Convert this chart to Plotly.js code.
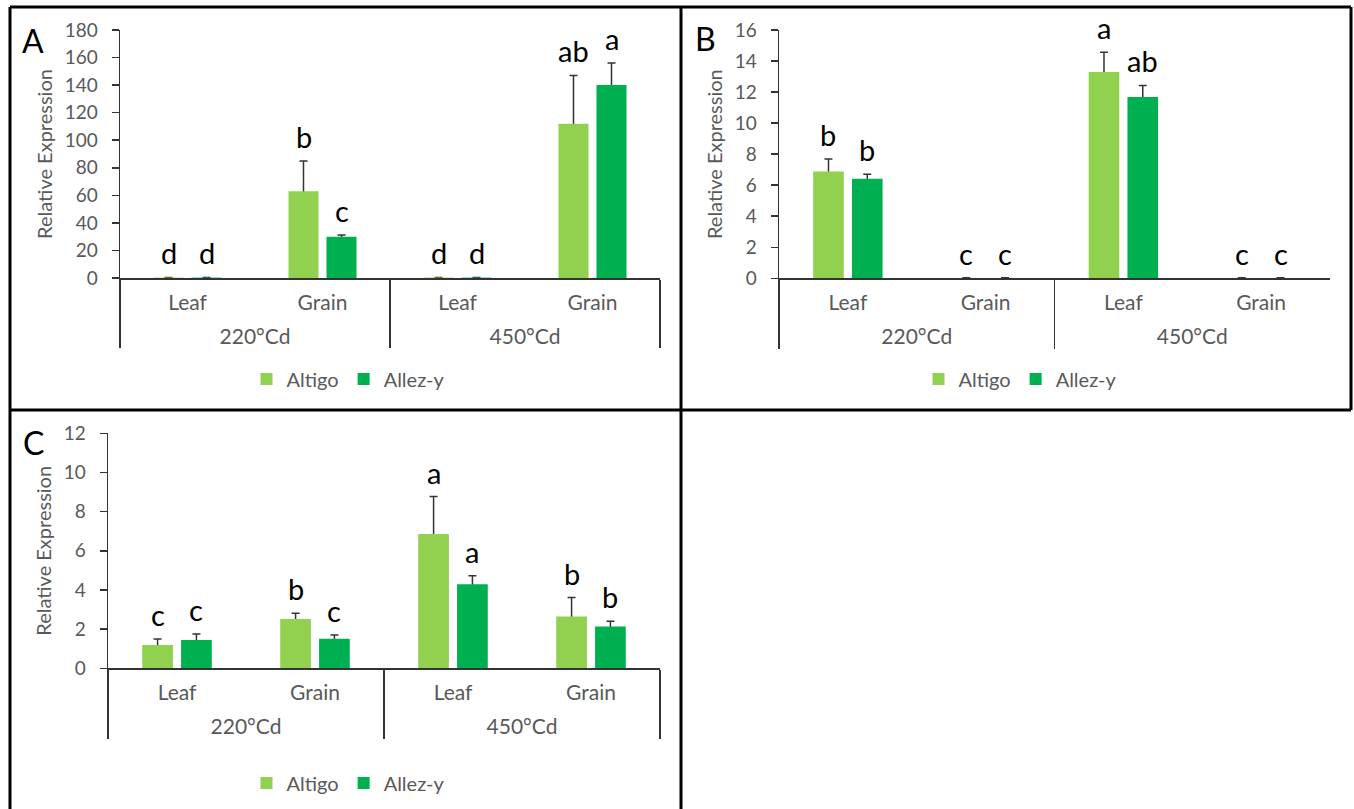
<!DOCTYPE html>
<html><head><meta charset="utf-8">
<script src="https://cdn.plot.ly/plotly-3.0.1.min.js"></script>
<style>html,body{margin:0;padding:0;background:#fff}#chart{width:1354px;height:809px}</style>
</head><body><div id="chart"></div>
<script>
// ---------- data ----------
const stages = ['220°Cd', '220°Cd', '450°Cd', '450°Cd'];
const tissues = ['Leaf', 'Grain', 'Leaf', 'Grain'];
const seriesNames = ['Altigo', 'Allez-y'];

// Panel A
const aAltigo = [0.3, 63, 0.3, 112];
const aAltigoErr = [0.1, 22, 0.1, 35];
const aAllez = [0.3, 30, 0.3, 140];
const aAllezErr = [0.1, 1.2, 0.1, 16];
const aAltigoLetters = ['d', 'b', 'd', 'ab'];
const aAllezLetters = ['d', 'c', 'd', 'a'];

// Panel B
const bAltigo = [6.88, 0.02, 13.3, 0.02];
const bAltigoErr = [0.8, 0.01, 1.27, 0.01];
const bAllez = [6.41, 0.02, 11.68, 0.02];
const bAllezErr = [0.3, 0.01, 0.75, 0.01];
const bAltigoLetters = ['b', 'c', 'a', 'c'];
const bAllezLetters = ['b', 'c', 'ab', 'c'];

// Panel C
const cAltigo = [1.19, 2.52, 6.86, 2.64];
const cAltigoErr = [0.31, 0.29, 1.91, 0.97];
const cAllez = [1.45, 1.51, 4.29, 2.13];
const cAllezErr = [0.3, 0.19, 0.44, 0.27];
const cAltigoLetters = ['c', 'b', 'a', 'b'];
const cAllezLetters = ['c', 'c', 'a', 'b'];

const yRanges = [[0, 180], [0, 16], [0, 12]];
const yDticks = [20, 2, 2];
const panelNames = ['A', 'B', 'C'];

// ---------- style ----------
const W = 1354, H = 809;
const FONT = 'Lato, Carlito, Calibri, sans-serif';
const GRAY = '#595959';
const LINE = '#333333';
const COLORS = ['#92D050', '#00B050'];
const BARGAP = 0.437, BARGROUPGAP = 0.21;
const px = v => v / W;
const py = v => 1 - v / H;

const panels = [
  {vals: [aAltigo, aAllez], errs: [aAltigoErr, aAllezErr], lets: [aAltigoLetters, aAllezLetters],
   xd: [120, 660], yd: [278, 30], legend: [348, 379], label: [33, 40], standoff: 6},
  {vals: [bAltigo, bAllez], errs: [bAltigoErr, bAllezErr], lets: [bAltigoLetters, bAllezLetters],
   xd: [779, 1330], yd: [278.3, 30], legend: [1020, 379], label: [705, 39], standoff: 6},
  {vals: [cAltigo, cAllez], errs: [cAltigoErr, cAllezErr], lets: [cAltigoLetters, cAllezLetters],
   xd: [108, 660], yd: [668.3, 433.3], legend: [348, 783], label: [33, 443], standoff: 6}
];

const data = [];
const annotations = [];
const layout = {
  width: W, height: H,
  margin: {l: 0, r: 0, t: 0, b: 0},
  paper_bgcolor: '#ffffff', plot_bgcolor: 'rgba(0,0,0,0)',
  barmode: 'group', bargap: BARGAP, bargroupgap: BARGROUPGAP,
  font: {family: FONT, color: GRAY},
  showlegend: true,
  shapes: [], annotations: annotations
};

const slot = (1 - BARGAP) / 2;

panels.forEach((p, k) => {
  const n = k === 0 ? '' : String(k + 1);
  const xa = 'x' + n, ya = 'y' + n;
  const legendId = 'legend' + n;
  // error-bar carriers (drawn first, so the following bars hide the lower half)
  for (let s = 0; s < 2; s++) {
    data.push({
      type: 'bar', x: [stages, tissues], y: p.vals[s],
      xaxis: xa, yaxis: ya, offsetgroup: 'g' + k + '_' + s,
      marker: {color: 'rgba(0,0,0,0)'}, showlegend: false, hoverinfo: 'skip',
      error_y: {type: 'data', array: p.errs[s], symmetric: true, color: LINE, thickness: 1.5, width: 4}
    });
  }
  for (let s = 0; s < 2; s++) {
    data.push({
      type: 'bar', name: seriesNames[s], x: [stages, tissues], y: p.vals[s],
      xaxis: xa, yaxis: ya, offsetgroup: 'g' + k + '_' + s, legend: legendId,
      marker: {color: COLORS[s], line: {width: 0}}
    });
    p.lets[s].forEach((t, i) => {
      annotations.push({
        xref: xa, yref: ya, x: i + (s === 0 ? -slot / 2 : slot / 2),
        y: p.vals[s][i] + p.errs[s][i], text: t, showarrow: false,
        xanchor: 'center', yanchor: 'bottom', yshift: 5,
        font: {family: FONT, size: 29, color: '#000000'}
      });
    });
  }
  layout['xaxis' + n] = {
    type: 'multicategory', anchor: ya, domain: [px(p.xd[0]), px(p.xd[1])],
    showline: true, linecolor: LINE, linewidth: 1.5,
    ticks: 'outside', tickson: 'labels', ticklen: 12, tickcolor: 'rgba(0,0,0,0)', tickwidth: 1,
    showdividers: true, dividercolor: LINE, dividerwidth: 1.5,
    ticklabelstandoff: -7,
    tickfont: {family: FONT, size: 21, color: GRAY},
    showgrid: false, zeroline: false, fixedrange: true
  };
  layout['yaxis' + n] = {
    anchor: xa, domain: [py(p.yd[0]), py(p.yd[1])],
    range: yRanges[k], dtick: yDticks[k], tick0: 0,
    showline: true, linecolor: LINE, linewidth: 1.5,
    ticks: 'outside', ticklen: 7, tickwidth: 1.5, tickcolor: LINE,
    ticklabelstandoff: 10,
    tickfont: {family: FONT, size: 19, color: GRAY},
    showgrid: false, zeroline: false, fixedrange: true,
    title: {text: 'Relative Expression', font: {family: FONT, size: 20, color: GRAY}, standoff: p.standoff}
  };
  layout[legendId] = {
    orientation: 'h', x: px(p.legend[0]), y: py(p.legend[1]), xanchor: 'center', yanchor: 'middle',
    font: {family: FONT, size: 20, color: GRAY}, bgcolor: 'rgba(0,0,0,0)', itemwidth: 30,
    itemclick: false, itemdoubleclick: false, tracegroupgap: 0
  };
  annotations.push({
    xref: 'paper', yref: 'paper', x: px(p.label[0]), y: py(p.label[1]),
    text: panelNames[k], showarrow: false, xanchor: 'center', yanchor: 'middle',
    font: {family: FONT, size: 32, color: '#000000'}
  });
});

// panel frames
const frameLines = [
  [10, 7, 1351, 7], [10, 410, 1351, 410],
  [10, 7, 10, 812], [681, 7, 681, 812], [1351, 7, 1351, 410]
];
frameLines.forEach(l => layout.shapes.push({
  type: 'line', xref: 'paper', yref: 'paper',
  x0: px(l[0]), y0: py(l[1]), x1: px(l[2]), y1: py(l[3]),
  line: {color: '#000000', width: 3}
}));

Plotly.newPlot('chart', data, layout, {displayModeBar: false, staticPlot: true});
</script>
</body></html>
